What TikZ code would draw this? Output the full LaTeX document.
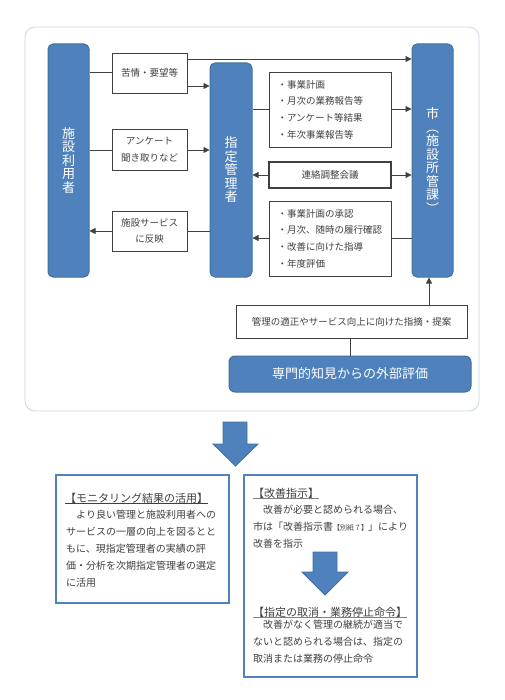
\documentclass[tikz,border=0pt]{standalone}
\usepackage{fontspec}
\setmainfont{Noto Sans CJK JP}
\usetikzlibrary{arrows.meta}
\definecolor{bfill}{HTML}{4F81BD}
\definecolor{bdraw}{HTML}{41719C}
\definecolor{ink}{HTML}{404040}
\definecolor{frame}{HTML}{C9D6E4}
\begin{document}
\begin{tikzpicture}[x=1pt,y=-1pt,
  bluebox/.style={fill=bfill, draw=bdraw, line width=1pt, rounded corners=5pt, text=white,
    font=\fontsize{13}{13.5}\selectfont, align=center, inner sep=0pt},
  wbox/.style={draw=ink, line width=0.8pt, fill=white, text=ink,
    font=\fontsize{9.5}{16.7}\selectfont, align=center, inner sep=0pt},
  con/.style={draw=ink, line width=0.8pt},
  arr/.style={con, -{Triangle[length=6pt,width=6pt]}},
  framebox/.style={draw=bfill, line width=1.6pt, fill=white, inner sep=0pt},
  body/.style={font=\fontsize{10}{17}\selectfont, text=ink, align=left, inner sep=0pt, anchor=north west},
  ttl/.style={font=\fontsize{11}{13}\selectfont, text=ink, inner sep=0pt, anchor=west},
  bigarrow/.style={fill=bfill, draw=bdraw, line width=0.8pt}
]
\useasboundingbox (0,0) rectangle (504,700);
\fill[white] (0,0) rectangle (504,700);
% outer frame
\draw[frame, line width=0.8pt, rounded corners=10pt] (25,27) rectangle (479,411);

% main actors
\node[bluebox, minimum width=41pt, minimum height=233pt] (user) at (68.5,160.5) {施\\設\\利\\用\\者};
\node[bluebox, minimum width=42pt, minimum height=214pt] (shitei) at (231,170) {指\\定\\管\\理\\者};
\node[bluebox, minimum width=41pt, minimum height=233pt] (city) at (432.5,160.5) {市\\︵\\施\\設\\所\\管\\課\\︶};

% left boxes
\node[wbox, minimum width=75pt, minimum height=40pt] (kujo) at (149.5,73) {苦情・要望等};
\node[wbox, minimum width=75pt, minimum height=41pt] (anketo) at (149.5,149.5) {アンケート\\聞き取りなど};
\node[wbox, minimum width=75pt, minimum height=40pt] (service) at (149.5,231) {施設サービス\\に反映};

% right boxes
\node[wbox, minimum width=122pt, minimum height=75pt, text width=105pt, align=left] (report) at (330,109.5)
  {・事業計画\\・月次の業務報告等\\・アンケート等結果\\・年次事業報告等};
\node[wbox, line width=1.5pt, minimum width=122pt, minimum height=26pt] (renraku) at (330,175) {連絡調整会議};
\node[wbox, minimum width=122pt, minimum height=75pt, text width=105pt, align=left] (approve) at (330,238.5)
  {・事業計画の承認\\・月次、随時の履行確認\\・改善に向けた指導\\・年度評価};

% bottom of top frame
\node[wbox, minimum width=231pt, minimum height=33pt] (shiteki) at (351.5,321.5) {管理の適正やサービス向上に向けた指摘・提案};
\node[bluebox, minimum width=242pt, minimum height=36pt, rounded corners=6pt] (gaibu) at (350,374) {専門的知見からの外部評価};

% connectors
\draw[con] (user.east |- 0,72) -- (kujo.west |- 0,72);
\draw[arr] (kujo.east |- 0,59) -- (city.west |- 0,59);
\draw[arr] (kujo.east |- 0,86) -- (shitei.west |- 0,86);
\draw[con] (user.east |- 0,150) -- (anketo.west |- 0,150);
\draw[arr] (anketo.east |- 0,150) -- (shitei.west |- 0,150);
\draw[con] (shitei.west |- 0,231) -- (service.east |- 0,231);
\draw[arr] (service.west |- 0,231) -- (user.east |- 0,231);
\draw[con] (shitei.east |- 0,109) -- (report.west |- 0,109);
\draw[arr] (report.east |- 0,109) -- (city.west |- 0,109);
\draw[arr] (renraku.west) -- (shitei.east |- renraku.west);
\draw[arr] (renraku.east) -- (city.west |- renraku.east);
\draw[con] (city.west |- 0,238) -- (approve.east |- 0,238);
\draw[arr] (approve.west |- 0,238) -- (shitei.east |- 0,238);
\draw[arr] (shiteki.north -| 429,0) -- (city.south -| 429,0);
\draw[con] (gaibu.north -| 350,0) -- (shiteki.south -| 350,0);

% big arrow
\draw[bigarrow] (223,422) -- (247,422) -- (247,444) -- (258,444) -- (235.5,466) -- (213,444) -- (223,444) -- cycle;

% bottom left box
\node[framebox, minimum width=173pt, minimum height=128pt] (leftbox) at (142.5,539) {};
\node[ttl] (lt) at (65,498) {【モニタリング結果の活用】};
\draw[ink, line width=0.8pt] (lt.south west) -- (lt.south east);
\node[body] (lb) at (66,510) {　より良い管理と施設利用者への\\サービスの一層の向上を図るとと\\もに、現指定管理者の実績の評\\価・分析を次期指定管理者の選定\\に活用};

% bottom right box
\node[framebox, minimum width=173pt, minimum height=202pt] (rightbox) at (330.5,576) {};
\node[ttl] (rt1) at (253,493) {【改善指示】};
\draw[gray, line width=0.9pt] (rt1.south west) -- (rt1.south east);
\node[body] (rb1) at (253,505) {　改善が必要と認められる場合、\\市は「改善指示書{\fontsize{7}{7}\selectfont【別紙７】}」により\\改善を指示};
\draw[bigarrow] (313,552) -- (337,552) -- (337,572) -- (348,572) -- (325,595) -- (302,572) -- (313,572) -- cycle;
\node[ttl] (rt2) at (253,612) {【指定の取消・業務停止命令】};
\draw[gray, line width=0.9pt] (rt2.south west) -- (rt2.south east);
\node[body] (rb2) at (253,620) {　改善がなく管理の継続が適当で\\ないと認められる場合は、指定の\\取消または業務の停止命令};
\end{tikzpicture}
\end{document}
